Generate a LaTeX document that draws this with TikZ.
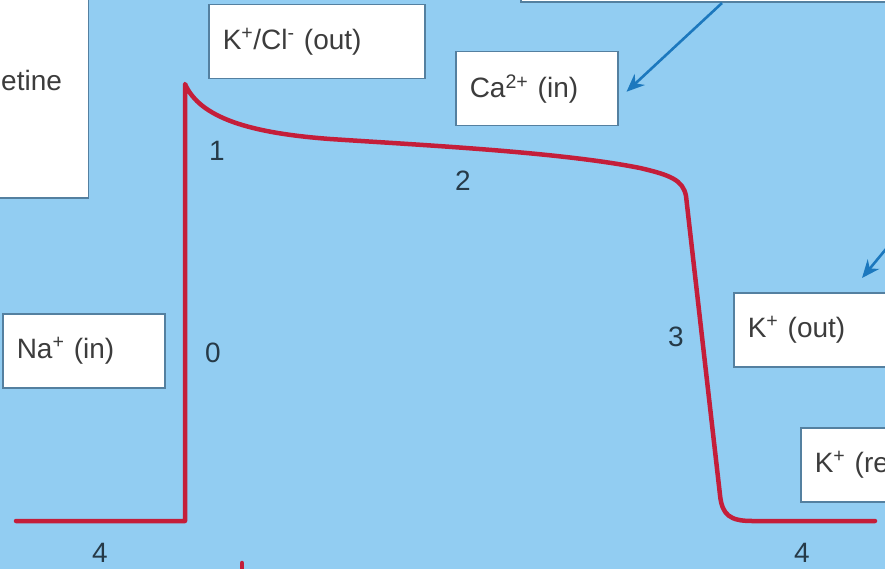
\documentclass[tikz,border=0pt]{standalone}
\usepackage{fontspec}
\setmainfont{Liberation Sans}
\usetikzlibrary{arrows.meta}
\definecolor{bgblue}{RGB}{146,205,242}
\definecolor{apred}{RGB}{196,30,58}
\definecolor{boxedge}{RGB}{84,128,160}
\definecolor{arrowblue}{RGB}{28,120,190}
\definecolor{phasegray}{RGB}{38,58,72}
\definecolor{boxtext}{RGB}{60,60,60}
\newcommand{\ionFont}{\fontsize{28}{33}\selectfont}
\tikzset{
  infobox/.style={draw=boxedge, fill=white, line width=1.5pt, inner xsep=14pt, inner ysep=0pt,
    minimum height=74pt, anchor=north west, align=left, text=boxtext, font=\ionFont},
  phase/.style={inner sep=0pt, text=phasegray, font=\ionFont},
  ionarrow/.style={draw=arrowblue, line width=2.6pt, -{Stealth[length=18pt,width=15pt]}},
  apcurve/.style={draw=apred, line width=4.5pt, line join=round, line cap=round}
}

\begin{document}
\begin{tikzpicture}[x=1pt,y=-1pt]
\fill[bgblue] (0,0) rectangle (885,569);
\useasboundingbox (0,0) rectangle (885,569);
\clip (0,0) rectangle (885,569);
% boxes that run off the edge
\node[infobox, anchor=south east, minimum width=130pt, minimum height=240pt] (drugbox) at (89,199) {};
\node[inner sep=0pt, anchor=base west, font=\ionFont, text=boxtext] (drugtext) at (1,91) {etine};
\node[infobox, anchor=south west, minimum width=420pt, minimum height=60pt] (topbox) at (520,3) {};
% ion boxes
\node[infobox, text width=188pt] (kclbox) at (208,4) {K\textsuperscript{+}/Cl\textsuperscript{-} (out)};
\node[infobox, text width=134pt] (cabox) at (455,51) {Ca\textsuperscript{2+} (in)};
\node[infobox, text width=134pt] (nabox) at (2,313) {Na\textsuperscript{+} (in)};
\node[infobox, text width=200pt] (koutbox) at (733,292) {K\textsuperscript{+} (out)};
\node[infobox, text width=150pt] (krestbox) at (800,427) {K\textsuperscript{+} (re};
% arrows
\coordinate (catail) at (722,3);
\draw[ionarrow] (catail) -- ([xshift=8pt,yshift=-3pt]cabox.east);
\coordinate (ktail) at (905,226);
\coordinate (khead) at ([shift={(129,-14)}]koutbox.north west);
\draw[ionarrow] (ktail) -- (khead);
% action potential
\draw[apcurve] (16,521) -- (185,521) -- (185,84)
  .. controls (200,118) and (250,133) .. (330,139)
  .. controls (420,145) and (560,152) .. (640,168)
  .. controls (670,175) and (683,180) .. (686,196)
  -- (720,495)
  .. controls (722,515) and (730,521) .. (752,521)
  -- (875,521);
\draw[apcurve] (242,563) -- (242,580);
% phase numbers
\node[phase] (ph0) at (213,353) {0};
\node[phase] (ph1) at (217,151) {1};
\node[phase] (ph2) at (463,181) {2};
\node[phase] (ph3) at (676,337) {3};
\node[phase] (ph4a) at (100,553) {4};
\node[phase] (ph4b) at (802,553) {4};
\end{tikzpicture}
\end{document}
